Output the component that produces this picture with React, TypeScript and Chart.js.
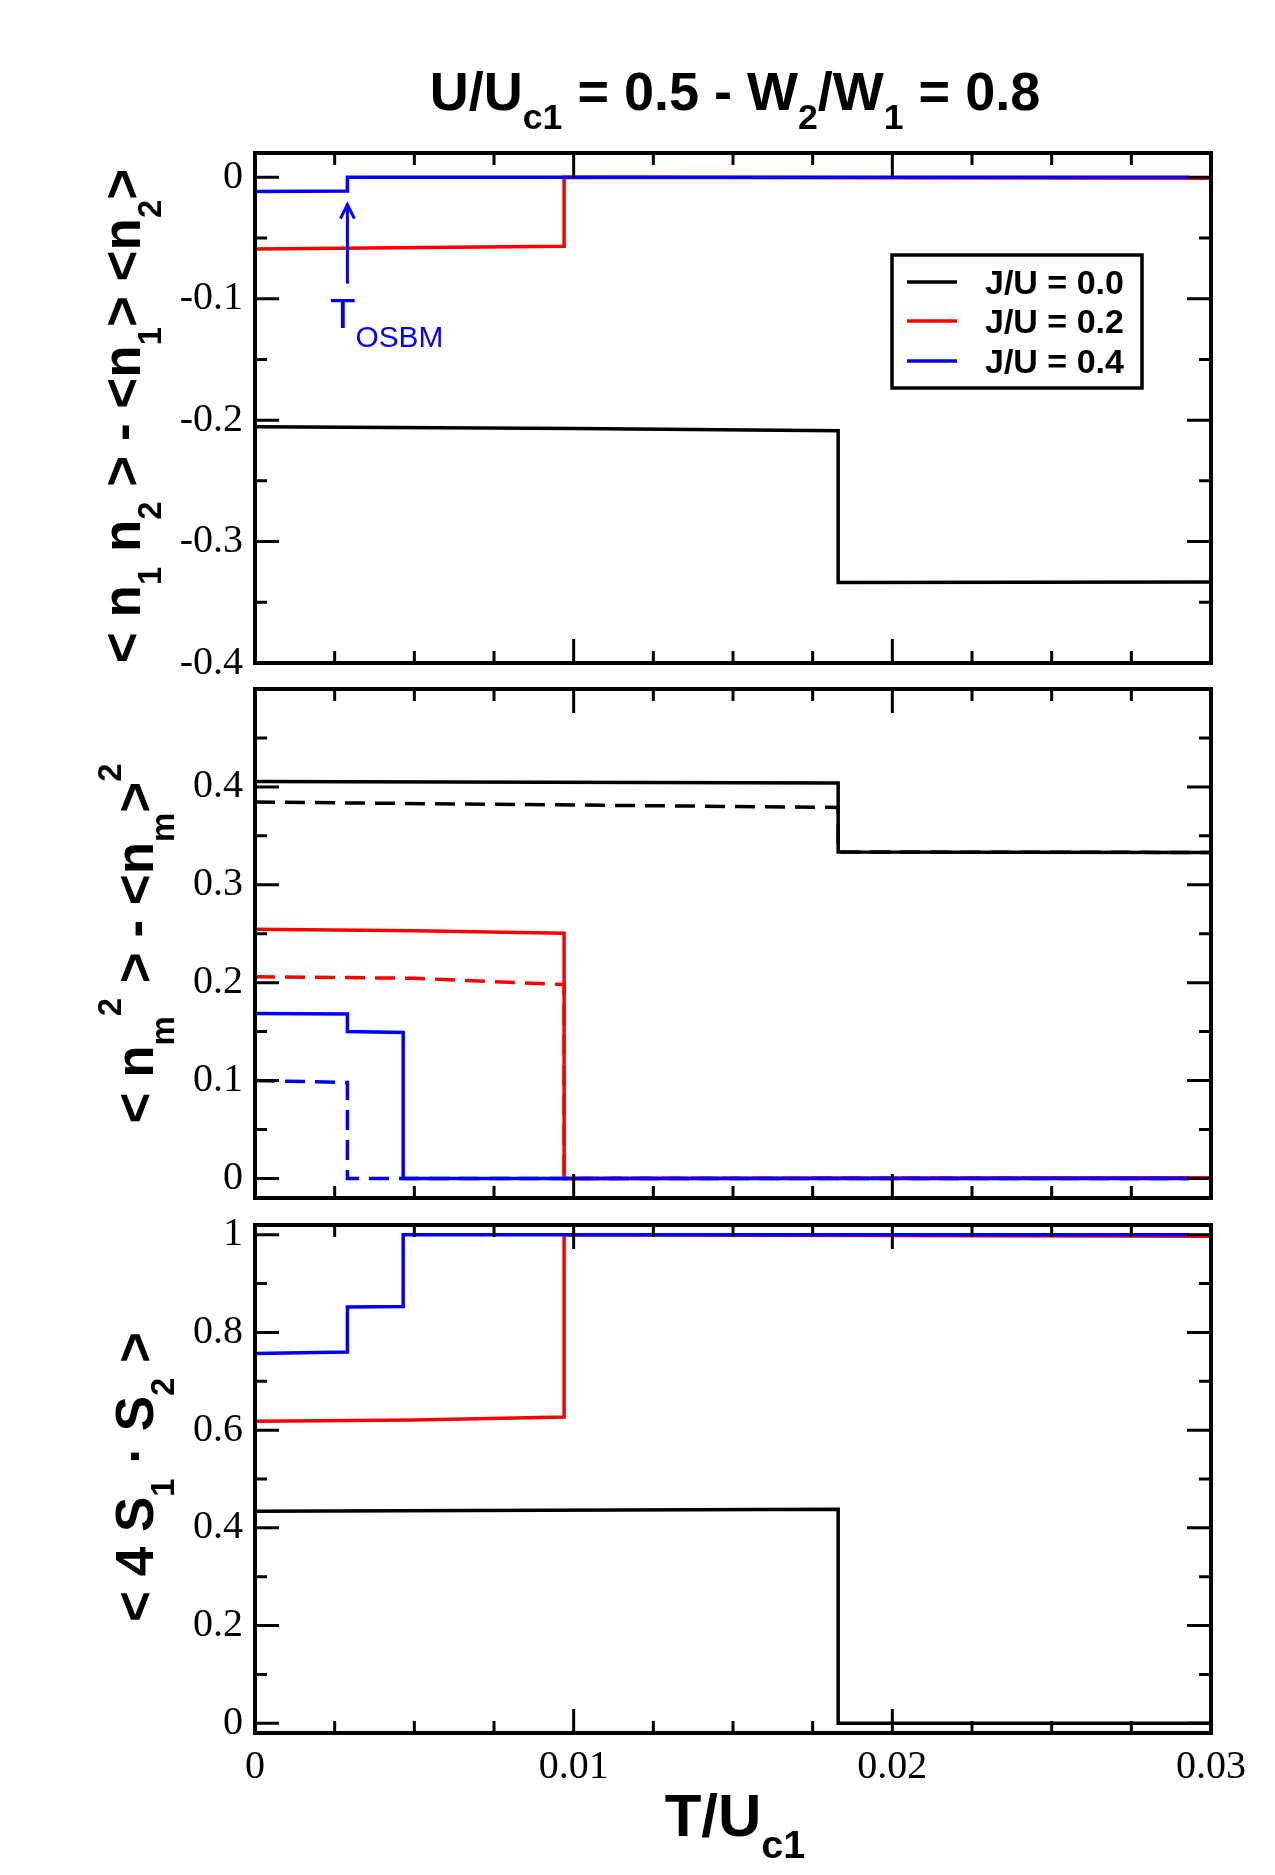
import { useEffect, useRef } from 'react';
import { Chart, registerables } from 'chart.js';

Chart.register(...registerables);

// ---------------- data ----------------
const xTickValues = [0, 0.01, 0.02, 0.03];
const corrTickValues = [-0.4, -0.3, -0.2, -0.1, 0];
const momentTickValues = [0, 0.1, 0.2, 0.3, 0.4];
const spinTickValues = [0, 0.2, 0.4, 0.6, 0.8, 1];

const seriesLabels = ['J/U = 0.0', 'J/U = 0.2', 'J/U = 0.4'];
const seriesColors = ['#000000', '#ff0000', '#0000ff'];

// panel 1: <n1 n2> - <n1><n2>
const corrT_J00 = [0, 0.01, 0.0183, 0.0183, 0.03];
const corr_J00 = [-0.2055, -0.2068, -0.2088, -0.3338, -0.3332];
const corrT_J02 = [0, 0.0097, 0.0097, 0.03];
const corr_J02 = [-0.059, -0.0568, 0, -0.0008];
const corrT_J04 = [0, 0.0029, 0.0029, 0.0293];
const corr_J04 = [-0.0118, -0.0113, 0, 0];

// panel 2: <n_m^2> - <n_m>^2 (solid) and second moment curve (dashed)
const momT_J00 = [0, 0.0183, 0.0183, 0.03];
const mom_J00 = [0.4055, 0.404, 0.3335, 0.333];
const momDashT_J00 = [0, 0.0183, 0.0183, 0.03];
const momDash_J00 = [0.3845, 0.379, 0.3335, 0.333];
const momT_J02 = [0, 0.005, 0.0097, 0.0097, 0.03];
const mom_J02 = [0.2545, 0.253, 0.2505, 0, 0.0008];
const momDashT_J02 = [0, 0.005, 0.0097, 0.0097, 0.03];
const momDash_J02 = [0.206, 0.2045, 0.198, 0, 0.0008];
const momT_J04 = [0, 0.0029, 0.0029, 0.00465, 0.00465, 0.0293];
const mom_J04 = [0.1685, 0.168, 0.15, 0.149, 0, 0];
const momDashT_J04 = [0, 0.0029, 0.0029, 0.0293];
const momDash_J04 = [0.1, 0.098, 0, 0];

// panel 3: <4 S1 . S2>
const spinT_J00 = [0, 0.0183, 0.0183, 0.03];
const spin_J00 = [0.434, 0.438, 0, 0];
const spinT_J02 = [0, 0.005, 0.0097, 0.0097, 0.03];
const spin_J02 = [0.618, 0.621, 0.627, 1, 0.997];
const spinT_J04 = [0, 0.0029, 0.0029, 0.00465, 0.00465, 0.0293];
const spin_J04 = [0.757, 0.76, 0.852, 0.853, 1, 1];

// annotation (data units of panel 1)
const osbmArrowT = 0.0029;
const osbmArrowFrom = -0.0876;
const osbmArrowTo = -0.0225;
const osbmLabelT = 0.00235;
const osbmLabelY = -0.1245;

// ---------------- text helpers ----------------
type Seg = { t: string; k?: 'sub' | 'sup' };
type RichStyle = {
  size: number;
  weight: string;
  family: string;
  color: string;
  subScale: number;
  subShift: number;
  supScale: number;
  supShift: number;
};

const SANS = 'Liberation Sans';
const SERIF = 'Liberation Serif';

function segFont(s: Seg, st: RichStyle) {
  const fs = s.k === 'sub' ? st.size * st.subScale : s.k === 'sup' ? st.size * st.supScale : st.size;
  return `${st.weight} ${fs}px "${st.family}"`;
}

function drawRich(ctx: CanvasRenderingContext2D, segs: Seg[], x: number, y: number, st: RichStyle, align: 'center' | 'left') {
  ctx.textBaseline = 'alphabetic';
  ctx.textAlign = 'left';
  ctx.fillStyle = st.color;
  let w = 0;
  for (const s of segs) {
    ctx.font = segFont(s, st);
    w += ctx.measureText(s.t).width;
  }
  let cx = align === 'center' ? x - w / 2 : x;
  for (const s of segs) {
    ctx.font = segFont(s, st);
    const dy = s.k === 'sub' ? st.size * st.subShift : s.k === 'sup' ? -st.size * st.supShift : 0;
    ctx.fillText(s.t, cx, y + dy);
    cx += ctx.measureText(s.t).width;
  }
}

const titleSegs: Seg[] = [
  { t: 'U/U' }, { t: 'c1', k: 'sub' }, { t: ' = 0.5 - W' }, { t: '2', k: 'sub' },
  { t: '/W' }, { t: '1', k: 'sub' }, { t: ' = 0.8' },
];
const xTitleSegs: Seg[] = [{ t: 'T/U' }, { t: 'c1', k: 'sub' }];
const corrLabelSegs: Seg[] = [
  { t: '< n' }, { t: '1', k: 'sub' }, { t: ' n' }, { t: '2', k: 'sub' }, { t: ' > - <n' },
  { t: '1', k: 'sub' }, { t: '> <n' }, { t: '2', k: 'sub' }, { t: '>' },
];
const momLabelSegs: Seg[] = [
  { t: '< n' }, { t: 'm', k: 'sub' }, { t: '2', k: 'sup' }, { t: ' > - <n' },
  { t: 'm', k: 'sub' }, { t: '>' }, { t: '2', k: 'sup' },
];
const spinLabelSegs: Seg[] = [
  { t: '< 4 S' }, { t: '1', k: 'sub' }, { t: ' \u00b7 S' }, { t: '2', k: 'sub' }, { t: ' >' },
];

const labelStyle: RichStyle = {
  size: 53, weight: 'bold', family: SANS, color: '#000',
  subScale: 0.62, subShift: 0.4, supScale: 0.62, supShift: 0.6,
};
const titleStyle: RichStyle = {
  size: 54, weight: 'bold', family: SANS, color: '#000',
  subScale: 0.66, subShift: 0.36, supScale: 0.66, supShift: 0.6,
};
const xTitleStyle: RichStyle = { ...titleStyle, size: 60 };
const osbmStyle: RichStyle = {
  size: 42, weight: 'normal', family: SANS, color: '#0000ff',
  subScale: 0.71, subShift: 0.45, supScale: 0.7, supShift: 0.6,
};

const fmt = (v: number) => String(parseFloat(Number(v).toFixed(4)));

function line(label: string, ts: number[], vs: number[], color: string, dashed: boolean, order: number, width = 3.5) {
  return {
    label,
    data: ts.map((t, i) => ({ x: t, y: vs[i] })),
    borderColor: color,
    backgroundColor: color,
    borderWidth: width,
    borderDash: dashed ? [20, 10] : [],
    borderCapStyle: 'butt',
    borderJoinStyle: 'miter',
    pointRadius: 0,
    tension: 0,
    fill: false,
    order,
  };
}

type PanelCfg = {
  datasets: any[];
  yMin: number;
  yMax: number;
  yTicks: number[];
  yMajor: number;
  yMinor: number;
  padTop: number;
  padBottom: number;
  showX: boolean;
  yLabel: Seg[];
  yLabelX: number;
  yLabelDy: number;
  extra?: (chart: any, ctx: CanvasRenderingContext2D) => void;
};

const X_MAJOR = 0.01;
const X_MINOR = 0.0025;

function decorPlugin(p: PanelCfg) {
  return {
    id: 'decor',
    afterDatasetsDraw(chart: any) {
      const ctx: CanvasRenderingContext2D = chart.ctx;
      const { left, right, top, bottom } = chart.chartArea;
      const xs = chart.scales.x;
      const ys = chart.scales.y;
      ctx.save();
      ctx.strokeStyle = '#000';
      ctx.lineWidth = 3;
      ctx.lineCap = 'butt';
      ctx.setLineDash([]);
      const xr = Math.round(X_MAJOR / X_MINOR);
      const k0 = Math.ceil(xs.min / X_MINOR - 1e-6);
      const k1 = Math.floor(xs.max / X_MINOR + 1e-6);
      for (let k = k0; k <= k1; k++) {
        const px = xs.getPixelForValue(k * X_MINOR);
        const len = ((k % xr) + xr) % xr === 0 ? 24 : 12;
        ctx.beginPath();
        ctx.moveTo(px, bottom);
        ctx.lineTo(px, bottom - len);
        ctx.moveTo(px, top);
        ctx.lineTo(px, top + len);
        ctx.stroke();
      }
      const yr = Math.round(p.yMajor / p.yMinor);
      const j0 = Math.ceil(ys.min / p.yMinor - 1e-6);
      const j1 = Math.floor(ys.max / p.yMinor + 1e-6);
      for (let j = j0; j <= j1; j++) {
        const py = ys.getPixelForValue(j * p.yMinor);
        const len = ((j % yr) + yr) % yr === 0 ? 24 : 12;
        ctx.beginPath();
        ctx.moveTo(left, py);
        ctx.lineTo(left + len, py);
        ctx.moveTo(right, py);
        ctx.lineTo(right - len, py);
        ctx.stroke();
      }
      ctx.lineWidth = 4;
      ctx.strokeRect(left, top, right - left, bottom - top);

      ctx.save();
      ctx.translate(p.yLabelX, (top + bottom) / 2 + p.yLabelDy);
      ctx.rotate(-Math.PI / 2);
      drawRich(ctx, p.yLabel, 0, 0, labelStyle, 'center');
      ctx.restore();

      if (p.extra) p.extra(chart, ctx);
      ctx.restore();
    },
  };
}

function makeChart(canvas: HTMLCanvasElement, p: PanelCfg) {
  return new Chart(canvas, {
    type: 'line',
    data: { datasets: p.datasets },
    options: {
      responsive: false,
      animation: false,
      events: [],
      layout: { padding: { left: 0, right: 64, top: p.padTop, bottom: p.padBottom } },
      plugins: { legend: { display: false }, tooltip: { enabled: false }, title: { display: false } },
      scales: {
        x: {
          type: 'linear',
          min: 0,
          max: 0.03,
          display: p.showX,
          grid: { display: false, drawTicks: false },
          border: { display: false },
          afterBuildTicks: (s: any) => { s.ticks = xTickValues.map((v) => ({ value: v })); },
          afterFit: (s: any) => { s.height = p.showX ? 142 : 0; },
          ticks: {
            font: { family: SERIF, size: 40 },
            color: '#000',
            padding: 10,
            maxRotation: 0,
            autoSkip: false,
            callback: (v: any) => fmt(v),
          },
        },
        y: {
          type: 'linear',
          min: p.yMin,
          max: p.yMax,
          grid: { display: false, drawTicks: false },
          border: { display: false },
          afterBuildTicks: (s: any) => { s.ticks = p.yTicks.map((v) => ({ value: v })); },
          afterFit: (s: any) => { s.width = 255; },
          ticks: {
            font: { family: SERIF, size: 40 },
            color: '#000',
            padding: 12,
            autoSkip: false,
            callback: (v: any) => fmt(v),
          },
        },
      },
    } as any,
    plugins: [decorPlugin(p)],
  } as any);
}

function drawTopExtras(chart: any, ctx: CanvasRenderingContext2D) {
  const { left, right } = chart.chartArea;
  const xs = chart.scales.x;
  const ys = chart.scales.y;
  // title
  drawRich(ctx, titleSegs, (left + right) / 2 + 2, 110, titleStyle, 'center');

  // legend
  const bx = 892, by = 255, bw = 250, bh = 133;
  ctx.fillStyle = '#fff';
  ctx.fillRect(bx, by, bw, bh);
  ctx.strokeStyle = '#000';
  ctx.lineWidth = 3.5;
  ctx.setLineDash([]);
  ctx.strokeRect(bx, by, bw, bh);
  const rows = [282, 321, 361];
  seriesLabels.forEach((lab, i) => {
    ctx.strokeStyle = seriesColors[i];
    ctx.lineWidth = 3.5;
    ctx.beginPath();
    ctx.moveTo(907, rows[i]);
    ctx.lineTo(957, rows[i]);
    ctx.stroke();
    ctx.fillStyle = '#000';
    ctx.font = `bold 34px "${SANS}"`;
    ctx.textAlign = 'left';
    ctx.textBaseline = 'alphabetic';
    ctx.fillText(lab, 985, rows[i] + 12);
  });

  // T_OSBM arrow
  const ax = xs.getPixelForValue(osbmArrowT);
  const ay0 = ys.getPixelForValue(osbmArrowFrom);
  const ay1 = ys.getPixelForValue(osbmArrowTo);
  ctx.strokeStyle = '#0000ff';
  ctx.lineWidth = 3;
  ctx.beginPath();
  ctx.moveTo(ax, ay0);
  ctx.lineTo(ax, ay1 + 2);
  ctx.stroke();
  ctx.beginPath();
  ctx.moveTo(ax - 7, ay1 + 14);
  ctx.lineTo(ax, ay1);
  ctx.lineTo(ax + 7, ay1 + 14);
  ctx.stroke();
  drawRich(
    ctx,
    [{ t: 'T' }, { t: 'OSBM', k: 'sub' }],
    xs.getPixelForValue(osbmLabelT),
    ys.getPixelForValue(osbmLabelY),
    osbmStyle,
    'left',
  );
}

function drawBottomExtras(chart: any, ctx: CanvasRenderingContext2D) {
  const { left, right } = chart.chartArea;
  drawRich(ctx, xTitleSegs, (left + right) / 2 + 2, 1836, xTitleStyle, 'center');
}

export default function App() {
  const r1 = useRef<HTMLCanvasElement>(null);
  const r2 = useRef<HTMLCanvasElement>(null);
  const r3 = useRef<HTMLCanvasElement>(null);

  useEffect(() => {
    const [c0, c2, c4] = seriesColors;
    const charts = [
      makeChart(r1.current!, {
        datasets: [
          line(seriesLabels[2], corrT_J04, corr_J04, c4, false, 1),
          line(seriesLabels[1], corrT_J02, corr_J02, c2, false, 2),
          line(seriesLabels[0], corrT_J00, corr_J00, c0, false, 3),
        ],
        yMin: -0.4,
        yMax: 0.02,
        yTicks: corrTickValues,
        yMajor: 0.1,
        yMinor: 0.05,
        padTop: 153,
        padBottom: 1875 - 663,
        showX: false,
        yLabel: corrLabelSegs,
        yLabelX: 140,
        yLabelDy: 8,
        extra: drawTopExtras,
      }),
      makeChart(r2.current!, {
        datasets: [
          line(seriesLabels[2], momT_J04, mom_J04, c4, false, 1),
          line(seriesLabels[2] + ' (dashed)', momDashT_J04, momDash_J04, c4, true, 2),
          line(seriesLabels[1], momT_J02, mom_J02, c2, false, 3),
          line(seriesLabels[1] + ' (dashed)', momDashT_J02, momDash_J02, c2, true, 4),
          line(seriesLabels[0], momT_J00, mom_J00, c0, false, 5),
          line(seriesLabels[0] + ' (dashed)', momDashT_J00, momDash_J00, c0, true, 6),
        ],
        yMin: -0.02,
        yMax: 0.5,
        yTicks: momentTickValues,
        yMajor: 0.1,
        yMinor: 0.05,
        padTop: 689,
        padBottom: 1875 - 1198,
        showX: false,
        yLabel: momLabelSegs,
        yLabelX: 153,
        yLabelDy: 0,
      }),
      makeChart(r3.current!, {
        datasets: [
          line(seriesLabels[2], spinT_J04, spin_J04, c4, false, 1),
          line(seriesLabels[1], spinT_J02, spin_J02, c2, false, 2),
          line(seriesLabels[0], spinT_J00, spin_J00, c0, false, 3),
        ],
        yMin: -0.02,
        yMax: 1.02,
        yTicks: spinTickValues,
        yMajor: 0.2,
        yMinor: 0.1,
        padTop: 1225,
        padBottom: 0,
        showX: true,
        yLabel: spinLabelSegs,
        yLabelX: 153,
        yLabelDy: -2,
        extra: drawBottomExtras,
      }),
    ];
    return () => charts.forEach((c) => c.destroy());
  }, []);

  const cs = { position: 'absolute' as const, left: 0, top: 0, width: 1275, height: 1875 };
  return (
    <div style={{ position: 'absolute', left: 0, top: 0, width: 1275, height: 1875, background: '#fff' }}>
      <canvas ref={r1} width={1275} height={1875} style={cs} />
      <canvas ref={r2} width={1275} height={1875} style={cs} />
      <canvas ref={r3} width={1275} height={1875} style={cs} />
    </div>
  );
}
